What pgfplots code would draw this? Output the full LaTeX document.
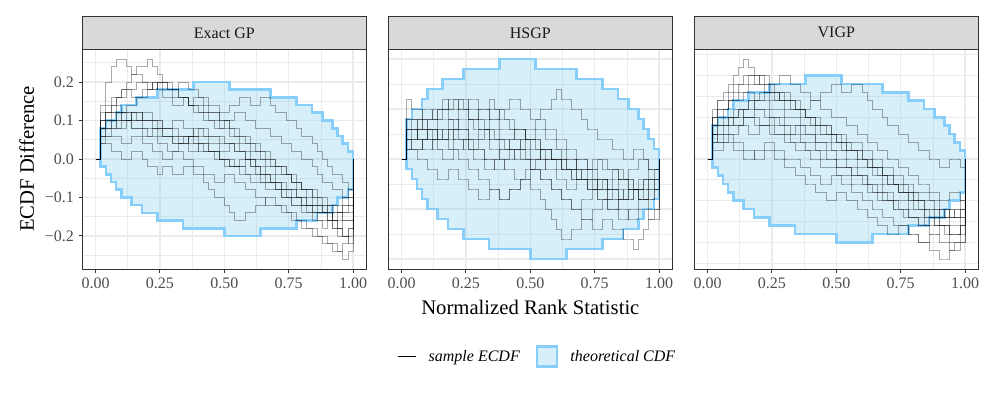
\documentclass[border=0pt]{standalone}
\usepackage{fontspec}
\setmainfont{Liberation Serif}
\usepackage{pgfplots}
\usepackage{pgfplotstable}
\pgfplotsset{compat=1.18}
\definecolor{gridc}{RGB}{235,235,235}
\definecolor{grey20}{RGB}{51,51,51}
\definecolor{grey30}{RGB}{77,77,77}
\definecolor{grey10}{RGB}{26,26,26}
\definecolor{stripfill}{RGB}{217,217,217}
\definecolor{bandfill}{RGB}{135,206,235}
\definecolor{bandline}{RGB}{135,206,250}

% theoretical CDF band (closed outline)
\pgfplotstableread{
x y
0.02 -0.02
0.02 0.08
0.04 0.08
0.04 0.1
0.08 0.1
0.08 0.12
0.1 0.12
0.1 0.14
0.16 0.14
0.16 0.16
0.24 0.16
0.24 0.18
0.38 0.18
0.38 0.2
0.52 0.2
0.52 0.18
0.68 0.18
0.68 0.16
0.78 0.16
0.78 0.14
0.84 0.14
0.84 0.12
0.88 0.12
0.88 0.1
0.92 0.1
0.92 0.08
0.94 0.08
0.94 0.06
0.96 0.06
0.96 0.04
0.98 0.04
0.98 0.02
1 0.02
1 -0.08
0.98 -0.08
0.98 -0.1
0.94 -0.1
0.94 -0.12
0.92 -0.12
0.92 -0.14
0.86 -0.14
0.86 -0.16
0.78 -0.16
0.78 -0.18
0.64 -0.18
0.64 -0.2
0.5 -0.2
0.5 -0.18
0.34 -0.18
0.34 -0.16
0.24 -0.16
0.24 -0.14
0.18 -0.14
0.18 -0.12
0.14 -0.12
0.14 -0.1
0.1 -0.1
0.1 -0.08
0.08 -0.08
0.08 -0.06
0.06 -0.06
0.06 -0.04
0.04 -0.04
0.04 -0.02
0.02 -0.02
0.02 0.08
}\band

% Exact GP sample ECDF differences (one row per sample)
\pgfplotstableread[header=false]{
x 0 0.02 0.04 0.06 0.08 0.1 0.12 0.14 0.16 0.18 0.2 0.22 0.24 0.26 0.28 0.3 0.32 0.34 0.36 0.38 0.4 0.42 0.44 0.46 0.48 0.5 0.52 0.54 0.56 0.58 0.6 0.62 0.64 0.66 0.68 0.7 0.72 0.74 0.76 0.78 0.8 0.82 0.84 0.86 0.88 0.9 0.92 0.94 0.96 0.98 1
a 0 0.14 0.2 0.24 0.26 0.26 0.24 0.22 0.22 0.2 0.18 0.2 0.18 0.16 0.16 0.14 0.14 0.16 0.14 0.12 0.12 0.1 0.1 0.08 0.08 0.1 0.08 0.06 0.06 0.04 0.04 0.02 0.02 0 0 -0.02 -0.02 -0.04 -0.06 -0.06 -0.08 -0.08 -0.1 -0.12 -0.12 -0.14 -0.16 -0.18 -0.2 -0.18 0
b 0 0.08 0.12 0.14 0.16 0.18 0.2 0.22 0.24 0.24 0.26 0.24 0.22 0.2 0.2 0.18 0.16 0.16 0.14 0.14 0.12 0.12 0.1 0.1 0.08 0.08 0.06 0.06 0.04 0.04 0.02 0.02 0 0 -0.02 -0.02 -0.04 -0.04 -0.06 -0.08 -0.08 -0.1 -0.12 -0.12 -0.14 -0.14 -0.16 -0.18 -0.2 -0.22 0
c 0 0.06 0.08 0.1 0.12 0.12 0.14 0.14 0.16 0.16 0.18 0.18 0.2 0.2 0.18 0.18 0.2 0.2 0.18 0.18 0.16 0.16 0.14 0.14 0.12 0.12 0.14 0.14 0.16 0.16 0.14 0.14 0.16 0.16 0.14 0.12 0.12 0.1 0.1 0.08 0.06 0.06 0.04 0.02 0 -0.02 -0.04 -0.04 -0.06 -0.08 0
d 0 0.04 0.04 0.02 0.02 0 0 0.02 0.02 0 -0.02 -0.02 -0.04 -0.02 -0.02 -0.04 -0.04 -0.02 -0.02 -0.04 -0.04 -0.06 -0.08 -0.1 -0.1 -0.12 -0.14 -0.16 -0.16 -0.14 -0.14 -0.12 -0.12 -0.1 -0.1 -0.12 -0.12 -0.14 -0.14 -0.16 -0.16 -0.18 -0.18 -0.2 -0.2 -0.22 -0.22 -0.24 -0.26 -0.24 0
e 0 0.1 0.12 0.12 0.14 0.12 0.12 0.1 0.1 0.12 0.12 0.1 0.1 0.08 0.08 0.1 0.1 0.08 0.08 0.06 0.06 0.06 0.04 0.04 0.02 0.02 0.04 0.04 0.02 0 0 -0.02 -0.02 -0.04 -0.04 -0.06 -0.06 -0.08 -0.08 -0.1 -0.1 -0.12 -0.12 -0.14 -0.14 -0.16 -0.16 -0.14 -0.14 -0.12 0
f 0 0.08 0.1 0.1 0.08 0.08 0.1 0.12 0.12 0.1 0.1 0.08 0.08 0.06 0.06 0.06 0.04 0.04 0.06 0.06 0.04 0.04 0.02 0.02 0 0 -0.02 -0.02 0 0 -0.02 -0.04 -0.04 -0.06 -0.06 -0.08 -0.1 -0.1 -0.12 -0.12 -0.14 -0.14 -0.16 -0.16 -0.18 -0.16 -0.18 -0.2 -0.2 -0.18 0
g 0 0.12 0.14 0.16 0.16 0.18 0.18 0.16 0.16 0.18 0.18 0.2 0.2 0.18 0.18 0.16 0.16 0.16 0.14 0.14 0.14 0.12 0.12 0.12 0.1 0.1 0.1 0.12 0.12 0.1 0.1 0.08 0.08 0.08 0.06 0.06 0.04 0.04 0.02 0.02 0 0 -0.02 -0.04 -0.06 -0.06 -0.08 -0.08 -0.1 -0.08 0
h 0 0.06 0.06 0.08 0.08 0.1 0.1 0.08 0.08 0.06 0.06 0.06 0.04 0.04 0.02 0.02 0.04 0.04 0.06 0.06 0.08 0.08 0.06 0.06 0.06 0.04 0.04 0.02 0.02 0 -0.02 -0.02 -0.04 -0.04 -0.06 -0.06 -0.08 -0.08 -0.1 -0.1 -0.12 -0.12 -0.14 -0.14 -0.14 -0.16 -0.18 -0.18 -0.16 -0.16 0
i 0 0.1 0.12 0.14 0.16 0.16 0.18 0.18 0.2 0.2 0.2 0.18 0.2 0.2 0.18 0.18 0.16 0.16 0.14 0.16 0.16 0.14 0.12 0.12 0.1 0.1 0.08 0.08 0.06 0.06 0.04 0.04 0.02 0.02 0 -0.02 -0.02 -0.04 -0.04 -0.06 -0.08 -0.08 -0.1 -0.1 -0.12 -0.12 -0.14 -0.14 -0.12 -0.1 0
j 0 0.04 0.06 0.06 0.06 0.04 0.04 0.06 0.06 0.04 0.04 0.02 0.02 0 0 0.02 0.02 0 0 -0.02 -0.02 -0.04 -0.04 -0.06 -0.06 -0.04 -0.04 -0.06 -0.06 -0.08 -0.08 -0.1 -0.1 -0.12 -0.12 -0.12 -0.14 -0.14 -0.16 -0.16 -0.18 -0.18 -0.2 -0.2 -0.22 -0.22 -0.24 -0.24 -0.22 -0.2 0
k 0 0.08 0.1 0.1 0.12 0.1 0.1 0.08 0.08 0.08 0.06 0.08 0.08 0.06 0.06 0.04 0.04 0.04 0.02 0.02 0.04 0.04 0.02 0.02 0 0 0 -0.02 -0.02 0 0 -0.02 -0.04 -0.04 -0.06 -0.06 -0.08 -0.08 -0.08 -0.1 -0.1 -0.12 -0.12 -0.12 -0.14 -0.14 -0.16 -0.16 -0.14 -0.14 0
l 0 0.1 0.1 0.12 0.12 0.12 0.1 0.1 0.1 0.08 0.08 0.08 0.06 0.06 0.06 0.04 0.04 0.06 0.06 0.04 0.04 0.02 0.02 0.02 0 0 -0.02 -0.02 -0.02 -0.04 -0.04 -0.04 -0.06 -0.06 -0.06 -0.08 -0.08 -0.1 -0.1 -0.1 -0.12 -0.12 -0.14 -0.14 -0.14 -0.12 -0.12 -0.14 -0.16 -0.16 0
m 0 0.06 0.08 0.1 0.1 0.12 0.12 0.12 0.1 0.1 0.1 0.1 0.08 0.08 0.08 0.06 0.06 0.06 0.04 0.04 0.02 0.02 0.02 0 0 -0.02 -0.02 -0.02 -0.04 -0.04 -0.06 -0.06 -0.06 -0.08 -0.08 -0.08 -0.1 -0.1 -0.12 -0.12 -0.12 -0.14 -0.14 -0.16 -0.16 -0.16 -0.14 -0.14 -0.12 -0.12 0
n 0 0.08 0.08 0.08 0.1 0.1 0.1 0.12 0.12 0.1 0.1 0.1 0.1 0.08 0.08 0.08 0.06 0.06 0.06 0.08 0.08 0.06 0.06 0.06 0.04 0.04 0.04 0.02 0.02 0.02 0 0 0 -0.02 -0.02 -0.04 -0.04 -0.04 -0.06 -0.06 -0.08 -0.08 -0.08 -0.1 -0.1 -0.12 -0.12 -0.12 -0.1 -0.1 0
}\rawA
\pgfplotstabletranspose[colnames from=0]\tabA\rawA

% HSGP
\pgfplotstableread[header=false]{
x 0 0.02 0.04 0.06 0.08 0.1 0.12 0.14 0.16 0.18 0.2 0.22 0.24 0.26 0.28 0.3 0.32 0.34 0.36 0.38 0.4 0.42 0.44 0.46 0.48 0.5 0.52 0.54 0.56 0.58 0.6 0.62 0.64 0.66 0.68 0.7 0.72 0.74 0.76 0.78 0.8 0.82 0.84 0.86 0.88 0.9 0.92 0.94 0.96 0.98 1
a 0 0.04 0.06 0.06 0.08 0.08 0.1 0.1 0.12 0.1 0.1 0.12 0.12 0.1 0.1 0.08 0.08 0.1 0.1 0.08 0.08 0.06 0.06 0.06 0.04 0.04 0.02 0.02 0 0 0 -0.02 -0.02 -0.04 -0.04 -0.04 -0.06 -0.06 -0.04 -0.04 -0.06 -0.06 -0.08 -0.08 -0.06 -0.06 -0.04 -0.04 -0.02 -0.02 0
b 0 0.12 0.1 0.1 0.08 0.08 0.08 0.1 0.1 0.12 0.12 0.1 0.1 0.08 0.08 0.06 0.06 0.08 0.08 0.1 0.1 0.12 0.12 0.1 0.1 0.08 0.08 0.1 0.1 0.12 0.14 0.12 0.12 0.1 0.1 0.08 0.06 0.06 0.04 0.04 0.04 0.02 0.02 0 0 0.02 0.02 0 -0.02 -0.02 0
c 0 0.02 0.02 0 0 -0.02 -0.02 -0.04 -0.04 -0.02 -0.02 -0.04 -0.04 -0.06 -0.06 -0.08 -0.08 -0.06 -0.06 -0.08 -0.08 -0.06 -0.06 -0.04 -0.04 -0.06 -0.06 -0.08 -0.1 -0.12 -0.14 -0.16 -0.16 -0.14 -0.14 -0.12 -0.12 -0.1 -0.1 -0.08 -0.08 -0.06 -0.06 -0.08 -0.08 -0.06 -0.06 -0.04 -0.04 -0.02 0
d 0 0.06 0.06 0.04 0.04 0.06 0.06 0.04 0.04 0.06 0.06 0.04 0.04 0.02 0.02 0.04 0.04 0.02 0.02 0 0 0.02 0.02 0 0 -0.02 -0.02 -0.04 -0.04 -0.06 -0.06 -0.08 -0.08 -0.1 -0.1 -0.12 -0.12 -0.14 -0.14 -0.12 -0.12 -0.14 -0.14 -0.16 -0.16 -0.18 -0.16 -0.14 -0.12 -0.12 0
e 0 0.04 0.04 0.06 0.06 0.04 0.04 0.06 0.06 0.08 0.08 0.1 0.1 0.08 0.08 0.1 0.1 0.12 0.1 0.1 0.08 0.08 0.06 0.06 0.04 0.04 0.04 0.02 0.02 0 0 0 -0.02 -0.02 0 0 -0.02 -0.02 -0.04 -0.04 -0.06 -0.06 -0.04 -0.04 -0.06 -0.06 -0.08 -0.08 -0.06 -0.06 0
f 0 0.08 0.08 0.06 0.06 0.08 0.08 0.1 0.1 0.08 0.08 0.06 0.06 0.04 0.04 0.06 0.06 0.04 0.04 0.02 0.02 0.04 0.04 0.02 0.02 0 0 0.02 0.02 0 0 -0.02 -0.02 -0.02 -0.04 -0.04 -0.06 -0.06 -0.08 -0.08 -0.1 -0.1 -0.12 -0.12 -0.1 -0.1 -0.08 -0.08 -0.1 -0.1 0
g 0 0.02 0.04 0.04 0.02 0.02 0.04 0.04 0.06 0.06 0.04 0.04 0.02 0.02 0 0 -0.02 -0.02 0 0 -0.02 -0.02 -0.04 -0.04 -0.02 -0.02 0 0 -0.02 -0.02 -0.04 -0.04 -0.06 -0.06 -0.04 -0.04 -0.06 -0.06 -0.08 -0.08 -0.1 -0.1 -0.08 -0.08 -0.06 -0.06 -0.08 -0.08 -0.06 -0.04 0
h 0 0.06 0.08 0.08 0.1 0.1 0.08 0.08 0.1 0.1 0.12 0.12 0.1 0.12 0.12 0.1 0.1 0.08 0.08 0.06 0.06 0.06 0.04 0.04 0.06 0.06 0.08 0.08 0.06 0.06 0.04 0.04 0.02 0.02 0 0 -0.02 -0.02 0 0 -0.02 -0.02 -0.04 -0.04 -0.02 -0.02 0 0 -0.02 -0.02 0
i 0 0.04 0.02 0.02 0.04 0.04 0.02 0.02 0 0 0.02 0.02 0.04 0.04 0.02 0.02 0 0 -0.02 -0.02 0 0 0.02 0.02 0.04 0.04 0.06 0.06 0.04 0.04 0.02 0.02 0 0 -0.02 -0.02 -0.04 -0.04 -0.06 -0.06 -0.08 -0.08 -0.1 -0.1 -0.12 -0.12 -0.1 -0.1 -0.12 -0.1 0
j 0 0.06 0.06 0.08 0.08 0.06 0.06 0.04 0.04 0.02 0.02 0 0 -0.02 -0.02 -0.04 -0.04 -0.06 -0.06 -0.08 -0.08 -0.06 -0.06 -0.04 -0.04 -0.02 -0.02 -0.04 -0.04 -0.06 -0.06 -0.08 -0.08 -0.1 -0.1 -0.08 -0.08 -0.06 -0.06 -0.04 -0.04 -0.02 -0.02 -0.04 -0.04 -0.06 -0.06 -0.04 -0.04 -0.06 0
k 0 0.06 0.06 0.04 0.04 0.06 0.06 0.06 0.04 0.04 0.06 0.06 0.06 0.04 0.04 0.04 0.06 0.06 0.04 0.04 0.04 0.02 0.02 0.02 0 0 0 0.02 0.02 0 0 0 -0.02 -0.02 -0.02 -0.04 -0.04 -0.04 -0.06 -0.06 -0.06 -0.04 -0.04 -0.04 -0.06 -0.06 -0.06 -0.08 -0.08 -0.06 0
l 0 0.04 0.04 0.06 0.06 0.06 0.04 0.04 0.04 0.06 0.06 0.08 0.08 0.08 0.06 0.06 0.06 0.04 0.04 0.04 0.02 0.02 0.02 0.04 0.04 0.02 0.02 0 0 0 -0.02 -0.02 -0.02 -0.04 -0.04 -0.02 -0.02 -0.04 -0.04 -0.04 -0.06 -0.06 -0.08 -0.08 -0.08 -0.06 -0.06 -0.06 -0.04 -0.04 0
m 0 0.02 0.02 0.02 0.04 0.04 0.04 0.02 0.02 0.02 0.04 0.04 0.04 0.02 0.02 0.02 0 0 0 0.02 0.02 0.02 0 0 0 -0.02 -0.02 -0.02 0 0 0 -0.02 -0.02 -0.02 -0.04 -0.04 -0.04 -0.06 -0.06 -0.06 -0.08 -0.08 -0.08 -0.06 -0.06 -0.06 -0.08 -0.08 -0.08 -0.06 0
n 0 0.08 0.08 0.08 0.06 0.06 0.06 0.08 0.08 0.08 0.06 0.06 0.06 0.08 0.08 0.08 0.06 0.06 0.06 0.04 0.04 0.04 0.06 0.06 0.04 0.04 0.04 0.02 0.02 0.02 0.02 0 0 0 -0.02 -0.02 -0.02 0 0 -0.02 -0.02 -0.02 -0.04 -0.04 -0.04 -0.06 -0.06 -0.06 -0.04 -0.04 0
}\rawB
\pgfplotstabletranspose[colnames from=0]\tabB\rawB

% VIGP
\pgfplotstableread[header=false]{
x 0 0.02 0.04 0.06 0.08 0.1 0.12 0.14 0.16 0.18 0.2 0.22 0.24 0.26 0.28 0.3 0.32 0.34 0.36 0.38 0.4 0.42 0.44 0.46 0.48 0.5 0.52 0.54 0.56 0.58 0.6 0.62 0.64 0.66 0.68 0.7 0.72 0.74 0.76 0.78 0.8 0.82 0.84 0.86 0.88 0.9 0.92 0.94 0.96 0.98 1
a 0 0.1 0.14 0.16 0.18 0.2 0.22 0.24 0.22 0.2 0.2 0.18 0.18 0.16 0.16 0.14 0.14 0.12 0.12 0.1 0.1 0.08 0.08 0.06 0.06 0.04 0.04 0.02 0.02 0 0 -0.02 -0.02 -0.04 -0.04 -0.06 -0.06 -0.08 -0.08 -0.1 -0.1 -0.12 -0.12 -0.14 -0.14 -0.16 -0.16 -0.18 -0.18 -0.16 0
b 0 0.08 0.1 0.12 0.14 0.16 0.18 0.18 0.2 0.2 0.18 0.18 0.16 0.16 0.14 0.14 0.14 0.12 0.12 0.1 0.1 0.08 0.08 0.08 0.06 0.06 0.04 0.04 0.02 0.02 0 0 -0.02 -0.02 -0.04 -0.04 -0.06 -0.06 -0.08 -0.08 -0.1 -0.1 -0.12 -0.12 -0.14 -0.14 -0.12 -0.12 -0.14 -0.12 0
c 0 0.06 0.08 0.08 0.1 0.1 0.12 0.12 0.14 0.14 0.16 0.16 0.14 0.14 0.16 0.16 0.14 0.14 0.12 0.12 0.14 0.14 0.16 0.16 0.18 0.18 0.16 0.16 0.18 0.18 0.16 0.14 0.12 0.12 0.1 0.08 0.08 0.06 0.06 0.04 0.04 0.02 0.02 0 0 -0.02 -0.02 0 0 -0.02 0
d 0 0.04 0.04 0.06 0.06 0.04 0.04 0.02 0.02 0 0 0.02 0.02 0 0 -0.02 -0.02 -0.04 -0.04 -0.06 -0.06 -0.08 -0.08 -0.1 -0.1 -0.08 -0.08 -0.1 -0.1 -0.12 -0.12 -0.14 -0.14 -0.16 -0.16 -0.18 -0.18 -0.16 -0.16 -0.18 -0.18 -0.2 -0.2 -0.22 -0.22 -0.24 -0.24 -0.22 -0.2 -0.2 0
e 0 0.08 0.08 0.1 0.1 0.08 0.08 0.1 0.1 0.12 0.12 0.1 0.1 0.08 0.08 0.06 0.06 0.08 0.08 0.06 0.06 0.04 0.04 0.02 0.02 0 0 -0.02 -0.02 -0.04 -0.04 -0.06 -0.06 -0.08 -0.08 -0.1 -0.1 -0.12 -0.12 -0.14 -0.14 -0.16 -0.16 -0.18 -0.18 -0.16 -0.16 -0.18 -0.18 -0.16 0
f 0 0.06 0.06 0.08 0.08 0.1 0.1 0.12 0.12 0.14 0.14 0.16 0.16 0.14 0.14 0.12 0.12 0.12 0.1 0.1 0.08 0.08 0.06 0.06 0.06 0.04 0.04 0.02 0.02 0.02 0 0 -0.02 -0.02 -0.04 -0.06 -0.06 -0.08 -0.08 -0.1 -0.12 -0.12 -0.14 -0.14 -0.16 -0.16 -0.18 -0.2 -0.2 -0.18 0
g 0 0.02 0.02 0.04 0.04 0.02 0.02 0 0 0.02 0.02 0.04 0.04 0.02 0.02 0 0 0 -0.02 -0.02 -0.04 -0.04 -0.06 -0.06 -0.04 -0.04 -0.06 -0.06 -0.08 -0.08 -0.1 -0.1 -0.12 -0.12 -0.14 -0.14 -0.16 -0.16 -0.16 -0.18 -0.18 -0.2 -0.2 -0.18 -0.18 -0.2 -0.2 -0.22 -0.22 -0.2 0
h 0 0.1 0.12 0.12 0.14 0.14 0.16 0.16 0.18 0.18 0.2 0.2 0.18 0.18 0.2 0.2 0.18 0.18 0.16 0.16 0.14 0.14 0.12 0.12 0.1 0.1 0.1 0.08 0.08 0.06 0.06 0.04 0.04 0.02 0.02 0 0 -0.02 -0.02 -0.04 -0.04 -0.06 -0.06 -0.08 -0.08 -0.1 -0.1 -0.08 -0.08 -0.1 0
i 0 0.06 0.04 0.04 0.06 0.06 0.08 0.08 0.06 0.06 0.08 0.08 0.1 0.1 0.08 0.08 0.06 0.06 0.04 0.04 0.04 0.02 0.02 0 0 -0.02 -0.02 -0.02 -0.04 -0.04 -0.06 -0.06 -0.08 -0.08 -0.1 -0.1 -0.12 -0.12 -0.14 -0.14 -0.14 -0.16 -0.16 -0.14 -0.14 -0.12 -0.12 -0.14 -0.14 -0.12 0
j 0 0.12 0.14 0.14 0.16 0.18 0.18 0.2 0.2 0.18 0.18 0.16 0.16 0.16 0.14 0.14 0.12 0.12 0.12 0.1 0.1 0.1 0.08 0.08 0.06 0.06 0.06 0.04 0.04 0.04 0.02 0.02 0 0 -0.02 -0.02 -0.04 -0.04 -0.06 -0.06 -0.08 -0.08 -0.08 -0.1 -0.1 -0.12 -0.12 -0.14 -0.14 -0.14 0
k 0 0.06 0.08 0.08 0.1 0.1 0.12 0.1 0.1 0.08 0.08 0.08 0.06 0.06 0.06 0.04 0.04 0.02 0.02 0.02 0 0 -0.02 -0.02 -0.02 -0.04 -0.04 -0.04 -0.06 -0.06 -0.06 -0.08 -0.08 -0.1 -0.1 -0.1 -0.12 -0.12 -0.12 -0.14 -0.14 -0.14 -0.16 -0.16 -0.16 -0.14 -0.14 -0.12 -0.12 -0.1 0
l 0 0.08 0.1 0.1 0.1 0.12 0.12 0.12 0.14 0.12 0.12 0.12 0.1 0.1 0.1 0.08 0.08 0.08 0.06 0.06 0.06 0.04 0.04 0.04 0.02 0.02 0.02 0 0 -0.02 -0.02 -0.02 -0.04 -0.04 -0.06 -0.06 -0.06 -0.08 -0.08 -0.08 -0.1 -0.1 -0.12 -0.12 -0.12 -0.14 -0.14 -0.16 -0.16 -0.14 0
m 0 0.1 0.12 0.12 0.14 0.14 0.14 0.16 0.16 0.14 0.14 0.14 0.12 0.12 0.12 0.1 0.1 0.1 0.08 0.08 0.08 0.06 0.06 0.06 0.04 0.04 0.02 0.02 0.02 0 0 -0.02 -0.02 -0.02 -0.04 -0.04 -0.06 -0.06 -0.06 -0.08 -0.08 -0.1 -0.1 -0.1 -0.12 -0.12 -0.14 -0.14 -0.12 -0.12 0
n 0 0.04 0.06 0.06 0.08 0.08 0.08 0.1 0.1 0.1 0.08 0.08 0.08 0.06 0.06 0.06 0.04 0.04 0.04 0.02 0.02 0.02 0 0 0 -0.02 -0.02 -0.02 -0.04 -0.04 -0.04 -0.06 -0.06 -0.06 -0.08 -0.08 -0.1 -0.1 -0.1 -0.12 -0.12 -0.12 -0.14 -0.14 -0.16 -0.16 -0.16 -0.18 -0.18 -0.16 0
}\rawC
\pgfplotstabletranspose[colnames from=0]\tabC\rawC

\pgfplotsset{
  panel/.style={
    scale only axis, width=212.5pt, height=165pt, anchor=south west,
    xmin=-0.05, xmax=1.05,
    axis line style={grey20, line width=0.7pt},
    xtick={0,0.25,0.5,0.75,1},
    xticklabels={0.00,0.25,0.50,0.75,1.00},
    minor xtick={0.125,0.375,0.625,0.875},
    ytick={-0.2,-0.1,0,0.1,0.2},
    minor ytick={-0.25,-0.15,-0.05,0.05,0.15,0.25},
    grid=both,
    major grid style={gridc, line width=1.1pt},
    minor grid style={gridc, line width=0.55pt},
    tick align=outside, major tick length=3pt, minor tick length=0pt,
    tick style={grey20, line width=0.7pt},
    xtick pos=left, ytick pos=left,
    ticklabel style={font=\fontsize{12}{14}\selectfont, text=grey30},
    title style={anchor=south, yshift=-6pt, fill=stripfill, draw=grey20,
      line width=0.7pt, minimum width=212.5pt, minimum height=24.25pt, inner sep=0pt,
      outer sep=0pt, text=grey10, font=\fontsize{12}{14}\selectfont},
  },
  bandst/.style={fill=bandfill, fill opacity=0.33, draw=bandline, line width=2pt, line join=miter, forget plot},
  ecdfst/.style={const plot, black, draw opacity=0.33, line width=0.6pt, forget plot},
}

\begin{document}
\begin{tikzpicture}
\path[use as bounding box] (0pt,0pt) rectangle (747pt,298.5pt);

\begin{axis}[panel, at={(62pt,96.75pt)}, ymin=-0.286, ymax=0.286, title={Exact GP},
  yticklabels={−0.2,−0.1,0.0,0.1,0.2},
  ylabel={ECDF Difference},
  ylabel style={at={(axis description cs:-0.1976,0.5)}, anchor=center, font=\fontsize{15.5}{18}\selectfont, text=black}]
\addplot[bandst] table[x=x,y=y] {\band};
\pgfplotsinvokeforeach{a,b,c,d,e,f,g,h,i,j,k,l,m,n}{\addplot[ecdfst] table[x=x,y=#1] {\tabA};}
\end{axis}

\begin{axis}[panel, at={(291.5pt,96.75pt)}, ymin=-0.22, ymax=0.22, title={HSGP},
  yticklabels={}, ytick style={draw=none},
  xlabel={Normalized Rank Statistic},
  xlabel style={at={(axis description cs:0.5,-0.1727)}, anchor=center, font=\fontsize{15.5}{18}\selectfont, text=black},
  legend columns=2,
  legend style={at={(0.525,-0.398)}, anchor=center, draw=none, fill=none,
    font=\itshape\fontsize{12}{14}\selectfont,
    /tikz/every odd column/.append style={column sep=7pt},
    /tikz/every even column/.append style={column sep=10pt}},
  legend cell align=left]
\addplot[bandst] table[x=x,y=y] {\band};
\pgfplotsinvokeforeach{a,b,c,d,e,f,g,h,i,j,k,l,m,n}{\addplot[ecdfst] table[x=x,y=#1] {\tabB};}
\addlegendimage{legend image code/.code={\draw[black, line width=0.8pt] (0pt,0pt) -- (14pt,0pt);}}
\addlegendentry{sample ECDF}
\addlegendimage{legend image code/.code={\draw[fill=bandfill, fill opacity=0.33, draw=bandline, line width=2pt] (0pt,-7.5pt) rectangle (15pt,7.5pt);}}
\addlegendentry{theoretical CDF}
\end{axis}

\begin{axis}[panel, at={(521pt,96.75pt)}, ymin=-0.264, ymax=0.264, title={VIGP},
  yticklabels={}, ytick style={draw=none}]
\addplot[bandst] table[x=x,y=y] {\band};
\pgfplotsinvokeforeach{a,b,c,d,e,f,g,h,i,j,k,l,m,n}{\addplot[ecdfst] table[x=x,y=#1] {\tabC};}
\end{axis}
\end{tikzpicture}
\end{document}
